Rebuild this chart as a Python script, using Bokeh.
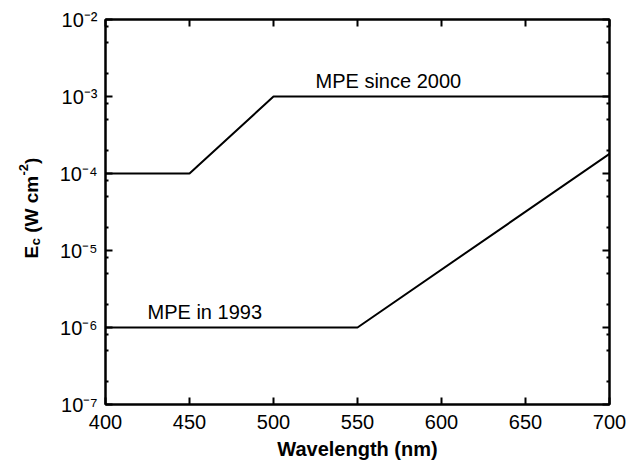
import math
from bokeh.plotting import figure
from bokeh.layouts import row
from bokeh.models import FixedTicker, LinearAxis, LogAxis, Label, Range1d
from bokeh.core.properties import value
from bokeh.embed import file_html
from bokeh.resources import INLINE

# ---- data ----
wl_2000 = [400, 450, 500, 700]
ec_2000 = [1e-4, 1e-4, 1e-3, 1e-3]
wl_1993 = [400, 550, 700]
ec_1993 = [1e-6, 1e-6, 1.8e-4]
x_ticks = [400, 450, 500, 550, 600, 650, 700]
y_exponents = [-7, -6, -5, -4, -3, -2]
minor_mult = [2, 5, 8]
series_labels = ["MPE since 2000", "MPE in 1993"]
x_title = "Wavelength (nm)"
y_title_parts = ["E", "c", "(W cm", "-2", ")"]

FONT = "Liberation Sans"
TOP, BOTTOM, H = 19, 68, 472
SUP = str.maketrans("-0123456789", "⁻⁰¹²³⁴⁵⁶⁷⁸⁹")

y_major = [10.0 ** e for e in y_exponents]
y_minor = [m * 10.0 ** e for e in y_exponents[:-1] for m in minor_mult]
y_labels = ["10" + str(e).translate(SUP) for e in y_exponents]

p = figure(width=590, height=H, y_axis_type="log",
           x_range=(400, 700), y_range=(1e-7, 1e-2),
           output_backend="svg", toolbar_location=None,
           min_border_left=55, min_border_right=31,
           min_border_top=TOP, min_border_bottom=BOTTOM)
p.xgrid.visible = False
p.ygrid.visible = False
p.outline_line_color = "black"
p.outline_line_width = 2
p.background_fill_color = "white"
p.border_fill_color = "white"

def style_axis(ax):
    ax.axis_line_color = "black"
    ax.axis_line_width = 2
    ax.major_tick_in = 7
    ax.major_tick_out = 0
    ax.minor_tick_in = 3
    ax.minor_tick_out = 0
    ax.major_tick_line_width = 2
    ax.minor_tick_line_width = 2
    ax.major_tick_line_color = "black"
    ax.minor_tick_line_color = "black"

def hide_labels(ax, ticks):
    ax.major_label_overrides = {t: "" for t in ticks}
    ax.major_label_standoff = 0

# bottom x axis
xa = p.xaxis[0]
xa.ticker = FixedTicker(ticks=x_ticks, minor_ticks=[])
style_axis(xa)
xa.major_label_text_font = FONT
xa.major_label_text_font_size = "20px"
xa.major_label_text_color = "black"
xa.major_label_standoff = 10
xa.axis_label = x_title
xa.axis_label_text_font = FONT
xa.axis_label_text_font_style = "bold"
xa.axis_label_text_font_size = "20px"
xa.axis_label_text_color = "black"
xa.axis_label_standoff = 6

# left y axis: 10^k labels
ya = p.yaxis[0]
ya.ticker = FixedTicker(ticks=y_major, minor_ticks=y_minor)
style_axis(ya)
ya.major_label_overrides = {t: s for t, s in zip(y_major, y_labels)}
ya.major_label_text_font = FONT
ya.major_label_text_font_size = "20px"
ya.major_label_text_color = "black"
ya.major_label_standoff = 8

# mirrored axes
top = LinearAxis(ticker=FixedTicker(ticks=x_ticks, minor_ticks=[]))
style_axis(top)
hide_labels(top, x_ticks)
p.add_layout(top, "above")
right = LogAxis(ticker=FixedTicker(ticks=y_major, minor_ticks=y_minor))
style_axis(right)
hide_labels(right, y_major)
p.add_layout(right, "right")

# series
p.line(wl_2000, ec_2000, line_width=2, line_color="black")
p.line(wl_1993, ec_1993, line_width=2, line_color="black")

# series labels
p.add_layout(Label(x=525, y=ec_2000[-1], y_offset=16, text=series_labels[0],
                   text_font=FONT, text_font_size="20px", text_color="black",
                   text_baseline="alphabetic"))
p.add_layout(Label(x=425, y=ec_1993[0], y_offset=16, text=series_labels[1],
                   text_font=FONT, text_font_size="20px", text_color="black",
                   text_baseline="alphabetic"))

# ---- y-axis title panel (pixel coordinates, y measured from the bottom) ----
t = figure(width=50, height=H, x_range=Range1d(0, 50), y_range=Range1d(BOTTOM, H - TOP),
           output_backend="svg", toolbar_location=None,
           x_axis_location=None, y_axis_location=None,
           min_border_left=0, min_border_right=0,
           min_border_top=TOP, min_border_bottom=BOTTOM)
t.xgrid.visible = False
t.ygrid.visible = False
t.outline_line_color = None
t.border_fill_color = "white"
t.background_fill_color = "white"

base_x, base_y = 31, 214
sizes = [19, 13, 19, 13, 19]
shift = [0, 4, 0, -8, 0]
along = [0.0, 13.2, 25.7, 83.0, 94.6]
for txt, fs, dx, dist in zip(y_title_parts, sizes, shift, along):
    t.text(x=[base_x + dx], y=[base_y + dist], text=[txt], angle=math.pi / 2,
           text_font=value(FONT), text_font_size=value(f"{fs}px"),
           text_font_style="bold", text_color="black",
           text_align="left", text_baseline="alphabetic")

layout = row(t, p)
open("out.html", "w").write(file_html(layout, INLINE))
